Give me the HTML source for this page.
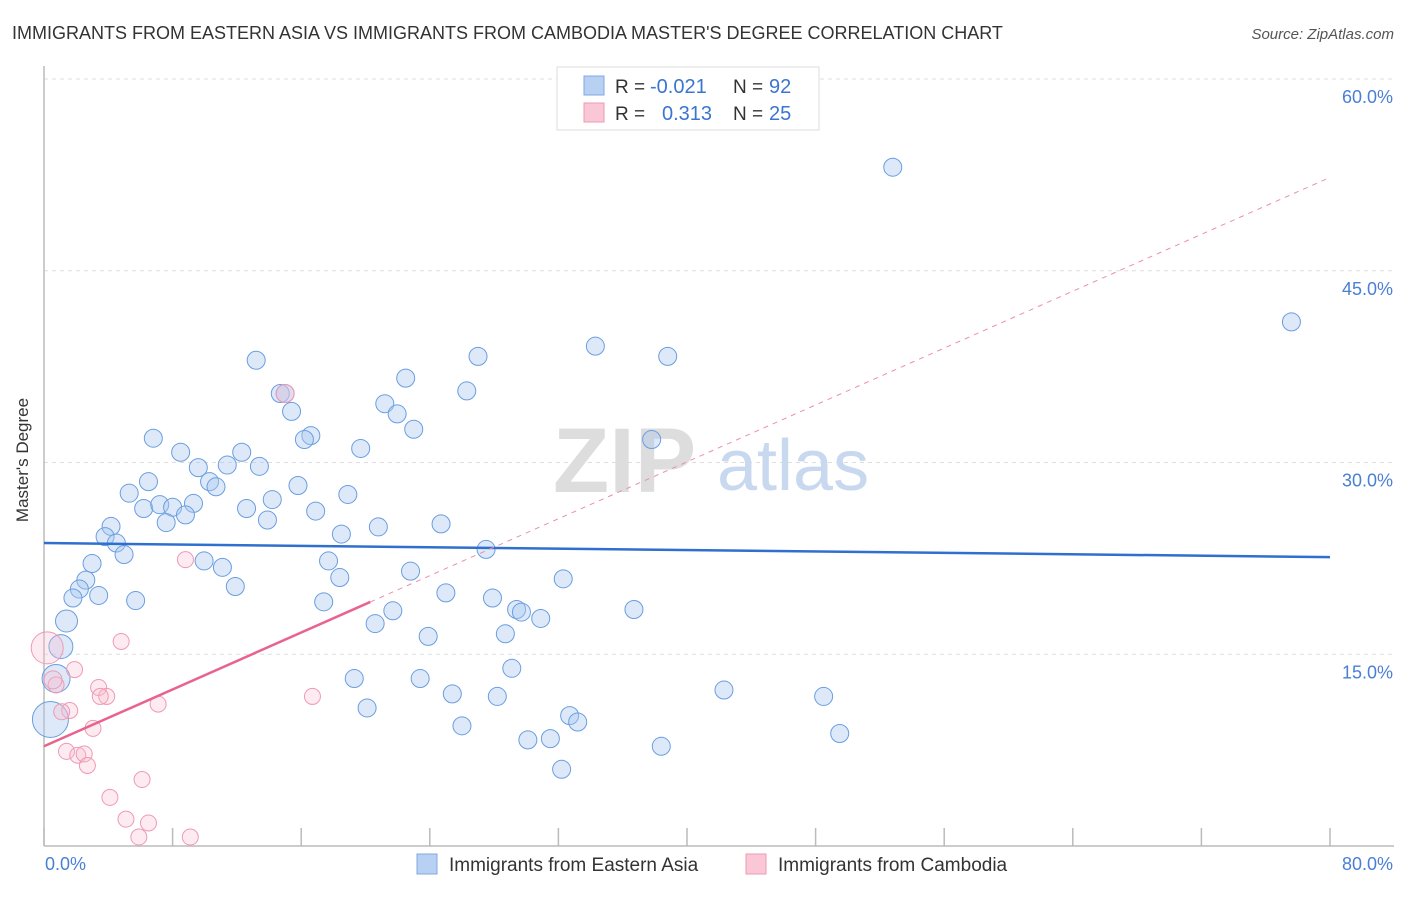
<!DOCTYPE html>
<html><head><meta charset="utf-8"><style>
body{margin:0;background:#fff;font-family:"Liberation Sans",sans-serif;}
svg text{font-family:"Liberation Sans",sans-serif;}
</style></head><body>
<svg id="chart" width="1406" height="892" xmlns="http://www.w3.org/2000/svg">
<text x="12" y="39" font-size="18" fill="#333">IMMIGRANTS FROM EASTERN ASIA VS IMMIGRANTS FROM CAMBODIA MASTER'S DEGREE CORRELATION CHART</text>
<text x="1394" y="39" font-size="15" fill="#555" text-anchor="end" font-style="italic">Source: ZipAtlas.com</text>
<g id="grid"></g>
<g>
<text x="553" y="492" font-size="92" fill="#ddd" font-family="Liberation Serif" font-weight="bold">ZIP</text>
<text x="717" y="490" font-size="72" fill="#c8d8ef">atlas</text>
</g>
<g id="axes"></g>
<g id="pts"></g>
<g id="trend"></g>
<text x="24" y="456" font-size="17" fill="#333" text-anchor="middle" transform="rotate(-90 28 456)">Master's Degree</text>
<text x="45" y="870" font-size="18" fill="#4a7fd4">0.0%</text>
<text x="1393" y="870" font-size="18" fill="#4a7fd4" text-anchor="end">80.0%</text>
<g>
<rect x="557" y="67" width="262" height="63" fill="#fff" stroke="#ddd"/>
<rect x="584" y="76" width="20" height="19" fill="#b8d1f3" stroke="#7ea8e6"/>
<rect x="584" y="103" width="20" height="19" fill="#f9c7d5" stroke="#ee9ab3"/>
<text x="615" y="93" font-size="19" fill="#333">R =</text>
<text x="650" y="93" font-size="20" fill="#3b75d0">-0.021</text>
<text x="733" y="93" font-size="19" fill="#333">N =</text>
<text x="769" y="93" font-size="20" fill="#3b75d0">92</text>
<text x="615" y="120" font-size="19" fill="#333">R =</text>
<text x="662" y="120" font-size="20" fill="#3b75d0">0.313</text>
<text x="733" y="120" font-size="19" fill="#333">N =</text>
<text x="769" y="120" font-size="20" fill="#3b75d0">25</text>
</g>
<g>
<rect x="417" y="854" width="20" height="20" fill="#b8d1f3" stroke="#7ea8e6"/>
<text x="449" y="871" font-size="19" fill="#333">Immigrants from Eastern Asia</text>
<rect x="746" y="854" width="20" height="20" fill="#f9c7d5" stroke="#ee9ab3"/>
<text x="778" y="871" font-size="19" fill="#333">Immigrants from Cambodia</text>
</g>
</svg>
<script>
const yTicks=[15,30,45,60];
const yTickLabels=["15.0%","30.0%","45.0%","60.0%"];
const xTicks=[0,8,16,24,32,40,48,56,64,72,80];
const blueX=[52.8,77.6,34.3,38.8,27.0,13.2,22.5,26.3,14.7,15.0,21.2,21.97,15.4,23.0,16.6,16.2,6.8,37.8,19.7,8.5,12.3,11.4,9.6,13.4,6.5,10.3,10.7,15.8,5.3,18.9,14.2,9.3,6.2,7.2,8.0,12.6,16.9,8.8,7.6,13.9,24.7,20.8,4.17,18.5,3.8,4.5,4.98,27.5,2.99,9.96,17.7,11.1,22.8,18.4,32.3,2.6,2.2,11.9,25.0,1.8,3.4,5.7,27.9,17.4,29.4,29.7,21.7,36.7,30.9,20.6,1.4,28.7,23.9,1.05,29.1,19.3,23.4,0.75,25.4,28.2,42.3,48.5,20.1,32.7,33.2,26.0,0.4,49.5,30.1,31.5,38.4,32.2];
const blueY=[53.1,41.0,39.1,38.3,38.3,38.0,36.6,35.6,35.4,35.4,34.6,33.8,34.0,32.6,32.1,31.8,31.9,31.8,31.1,30.8,30.8,29.8,29.6,29.7,28.5,28.5,28.1,28.2,27.6,27.5,27.1,26.8,26.4,26.7,26.5,26.4,26.2,25.9,25.3,25.5,25.2,24.96,25.0,24.4,24.2,23.7,22.8,23.2,22.1,22.3,22.3,21.8,21.5,21.0,20.9,20.8,20.1,20.3,19.8,19.4,19.6,19.2,19.4,19.1,18.5,18.3,18.4,18.5,17.8,17.4,17.6,16.6,16.4,15.6,13.9,13.1,13.1,13.1,11.9,11.7,12.2,11.7,10.8,10.2,9.7,9.4,9.9,8.8,8.3,8.4,7.8,6.0];
const blueR=[9,9,9,9,9,9,9,9,9,9,9,9,9,9,9,9,9,9,9,9,9,9,9,9,9,9,9,9,9,9,9,9,9,9,9,9,9,9,9,9,9,9,9,9,9,9,9,9,9,9,9,9,9,9,9,9,9,9,9,9,9,9,9,9,9,9,9,9,9,9,11,9,9,12,9,9,9,14,9,9,9,9,9,9,9,9,18,9,9,9,9,9];
const pinkX=[15.0,8.8,4.8,0.2,1.9,0.75,3.4,3.9,3.5,16.7,7.1,1.6,1.1,3.05,1.4,2.1,2.5,2.7,6.1,4.1,5.1,6.5,5.9,9.1,0.56];
const pinkY=[35.4,22.4,16.0,15.5,13.8,12.6,12.4,11.7,11.7,11.7,11.1,10.6,10.5,9.2,7.4,7.1,7.2,6.3,5.2,3.8,2.1,1.8,0.7,0.7,13.0];
const pinkR=[9,8,8,16,8,8,8,8,8,8,8,8,8,8,8,8,8,8,8,8,8,8,8,8,9];
const blueTrend=[23.7,22.6];
const pinkTrend=[7.8,52.3];
const pinkSolidEnd=20.3;

const NS="http://www.w3.org/2000/svg";
const X0=44,X1=1330,Y0=846,Y60=79;
const sx=v=>X0+(X1-X0)*v/80;
const sy=v=>Y0-(Y0-Y60)*v/60;
function mk(tag,attrs,parent){const e=document.createElementNS(NS,tag);for(const k in attrs)e.setAttribute(k,attrs[k]);parent.appendChild(e);return e;}
const grid=document.getElementById('grid'),axes=document.getElementById('axes'),pts=document.getElementById('pts'),trend=document.getElementById('trend');
yTicks.forEach((t,i)=>{
  const l=mk('line',{x1:X0,x2:1394,y1:sy(t),y2:sy(t),stroke:'#ddd','stroke-dasharray':'4,4'},grid);
  
  
  const tx=mk('text',{x:1393,y:sy(t)+24,'font-size':18,fill:'#4a7fd4','text-anchor':'end'},grid);
  tx.textContent=yTickLabels[i];
  
  
});
const ya=mk('line',{x1:X0,x2:X0,y1:66,y2:Y0,stroke:'#bbb','stroke-width':1.5},axes);


const xa=mk('line',{x1:X0,x2:1394,y1:Y0,y2:Y0,stroke:'#bbb','stroke-width':1.5},axes);


xTicks.forEach(t=>{
  const l=mk('line',{x1:sx(t),x2:sx(t),y1:828,y2:Y0,stroke:'#bbb','stroke-width':1.5},axes);
  
  
});
blueX.forEach((v,i)=>{
  const c=mk('circle',{cx:sx(v),cy:sy(blueY[i]),r:blueR[i],fill:'rgba(170,200,240,0.4)',stroke:'#6a9ee0','stroke-width':1},pts);
  
  
});
pinkX.forEach((v,i)=>{
  const c=mk('circle',{cx:sx(v),cy:sy(pinkY[i]),r:pinkR[i],fill:'rgba(248,190,208,0.3)',stroke:'#ee9ab3','stroke-width':1},pts);
  
  
});
const bt=mk('line',{x1:sx(0),y1:sy(blueTrend[0]),x2:sx(80),y2:sy(blueTrend[1]),stroke:'#2f6fd0','stroke-width':2.5},trend);


const pAt=x=>pinkTrend[0]+(pinkTrend[1]-pinkTrend[0])*x/80;
const pd=mk('line',{x1:sx(pinkSolidEnd),y1:sy(pAt(pinkSolidEnd)),x2:sx(80),y2:sy(pinkTrend[1]),stroke:'#eb8fab','stroke-width':1,'stroke-dasharray':'5,5'},trend);


const ps=mk('line',{x1:sx(0),y1:sy(pinkTrend[0]),x2:sx(pinkSolidEnd),y2:sy(pAt(pinkSolidEnd)),stroke:'#e8638e','stroke-width':2.5},trend);


</script>
</body></html>
